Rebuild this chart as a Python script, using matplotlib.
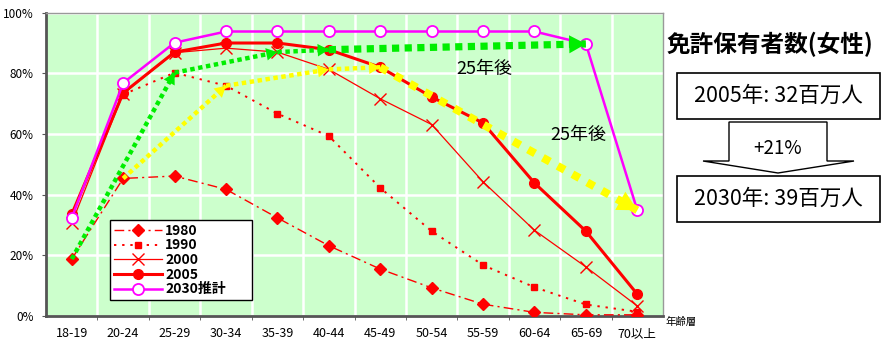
import matplotlib.pyplot as plt
import numpy as np
from matplotlib.patches import Rectangle, Polygon

plt.rcParams['font.family'] = ['Noto Sans CJK JP', 'DejaVu Sans']

# Age groups and licence-holding ratio (%) by survey year (women)
age_groups = ['18-19', '20-24', '25-29', '30-34', '35-39', '40-44',
              '45-49', '50-54', '55-59', '60-64', '65-69', '70以上']
rate_1980 = [18.7, 45.3, 46.1, 41.7, 32.3, 23.1, 15.4, 9.2, 3.8, 1.1, 0.3, 0.3]
rate_1990 = [np.nan, 73.0, 80.2, 75.9, 66.7, 59.3, 42.2, 27.9, 16.7, 9.4, 3.7, 1.3]
rate_2000 = [30.5, 73.3, 86.8, 88.3, 87.0, 81.3, 71.6, 63.1, 44.2, 28.2, 16.1, 3.2]
rate_2005 = [33.5, 73.5, 87.0, 90.0, 90.0, 87.8, 82.0, 72.2, 63.6, 43.8, 27.9, 7.1]
rate_2030 = [32.3, 76.8, 90.1, 93.8, 93.8, 93.8, 93.8, 93.8, 93.8, 93.8, 89.7, 34.8]

# Same cohort followed through the years: (series, age index) pairs
cohort_green = [('1980', 0), ('1990', 2), ('2000', 4), ('2005', 5), ('2030', 10)]
cohort_yellow = [('1980', 1), ('1990', 3), ('2000', 5), ('2005', 6), ('2030', 11)]

# Total women licence holders (millions)
total_2005 = 32
total_2030 = 39
growth_pct = 21

series = {'1980': rate_1980, '1990': rate_1990, '2000': rate_2000,
          '2005': rate_2005, '2030': rate_2030}

fig = plt.figure(figsize=(8.82, 3.39), dpi=100)
ax = fig.add_axes([0.0522, 0.0687, 0.6995, 0.8938])
ax.set_facecolor('#CCFFCC')

x = np.arange(len(age_groups))
red = '#FF0000'
ax.plot(x, rate_1980, color=red, lw=1, ls=(0, (7, 3, 1.5, 3)), marker='D', ms=6,
        label='1980', zorder=3)
ax.plot(x, rate_1990, color=red, lw=1.4, ls=(0, (1.2, 3)), marker='s', ms=5,
        label='1990', zorder=3)
ax.plot(x, rate_2000, color=red, lw=0.9, marker='x', ms=9, mew=1,
        label='2000', zorder=3)
ax.plot(x, rate_2005, color=red, lw=2.2, marker='o', ms=7,
        label='2005', zorder=4)
ax.plot(x, rate_2030, color='#FF00FF', lw=1.8, marker='o', ms=8, mfc='white',
        mew=1.3, label='2030推計', zorder=4)


def cohort_arrows(points, color, small_lw, big_lw, big_gap, big_head):
    for k in range(len(points) - 1):
        (s0, i0), (s1, i1) = points[k], points[k + 1]
        x0, y0 = i0, series[s0][i0]
        x1, y1 = i1, series[s1][i1]
        last = k == len(points) - 2
        lw = big_lw if last else small_lw
        gap = big_gap if last else 0.8
        ax.plot([x0, x1], [y0, y1], color=color, lw=lw, ls=(0, (1, gap)),
                dash_capstyle='butt', solid_capstyle='butt', zorder=5)
        hs = big_head if last else 'head_length=0.8,head_width=0.45'
        ax.annotate('', xy=(x1, y1), xytext=(x0, y0),
                    arrowprops=dict(arrowstyle='-|>,' + hs, color=color, lw=0,
                                    mutation_scale=10, shrinkA=0, shrinkB=0),
                    zorder=6)


cohort_arrows(cohort_green, '#00EE00', 3.2, 5.2, 0.75,
              'head_length=1.2,head_width=0.65')
cohort_arrows(cohort_yellow, '#FFFF00', 3.2, 5.8, 1.1,
              'head_length=1.4,head_width=0.75')

ax.text(8.03, 81.3, '25年後', fontsize=13, ha='center', va='center', zorder=7)
ax.text(9.85, 59.5, '25年後', fontsize=13, ha='center', va='center', zorder=7)

ax.set_xlim(-0.5, len(age_groups) - 0.5)
ax.set_ylim(0, 100)
ax.set_xticks(x)
ax.set_xticklabels(age_groups, fontsize=9)
ax.set_xticks(np.arange(0.5, len(age_groups) - 0.5), minor=True)
ax.tick_params(axis='x', which='major', length=0, pad=8)
ax.tick_params(axis='x', which='minor', length=3, direction='out', color='#555555')
ax.set_yticks(np.arange(0, 101, 20))
ax.set_yticklabels([f'{v}%' for v in range(0, 101, 20)], fontsize=8.5)
ax.tick_params(axis='y', length=3, color='#555555', pad=6)

ax.grid(True, axis='y', which='major', color='white', lw=1.8)
ax.grid(True, axis='x', which='minor', color='white', lw=1.8)
ax.set_axisbelow(True)

for side in ['left', 'bottom']:
    ax.spines[side].set_color('#555555')
    ax.spines[side].set_linewidth(2)
for side in ['top', 'right']:
    ax.spines[side].set_color('#999999')
    ax.spines[side].set_linewidth(1)

leg = ax.legend(loc='lower left', bbox_to_anchor=(0.104, 0.052, 0.23, 0.277),
                mode='expand', prop={'weight': 'bold', 'size': 10},
                handlelength=3.5, fancybox=False, framealpha=1,
                edgecolor='black', borderaxespad=0, labelspacing=0.05,
                borderpad=0.25, handletextpad=0.2)
leg.get_frame().set_linewidth(1)
leg.set_zorder(8)

# Right-hand summary panel
W, H = 882, 339


def fx(px):
    return px / W


def fy(py):
    return 1 - py / H


fig.text(fx(667), fy(44), '免許保有者数(女性)', fontsize=17, fontweight='bold',
         ha='left', va='center')
fig.text(fx(666), fy(322), '年齢層', fontsize=7.5, ha='left', va='center')

for top, label in [(73, f'2005年: {total_2005}百万人'), (176, f'2030年: {total_2030}百万人')]:
    fig.patches.append(Rectangle((fx(677), fy(top + 46)), fx(880) - fx(677),
                                 46 / H, transform=fig.transFigure,
                                 fc='white', ec='black', lw=1.2))
    fig.text(fx(778.5), fy(top + 23), label, fontsize=15.5, ha='center', va='center')

arrow_px = [(729, 122), (827, 122), (827, 161), (854, 161), (778, 173),
            (703, 161), (729, 161)]
fig.patches.append(Polygon([(fx(a), fy(b)) for a, b in arrow_px], closed=True,
                           transform=fig.transFigure, fc='white', ec='black', lw=1))
fig.text(fx(778), fy(149), f'+{growth_pct}%', fontsize=13.5, ha='center', va='center')

fig.savefig('out.png', dpi=100)
